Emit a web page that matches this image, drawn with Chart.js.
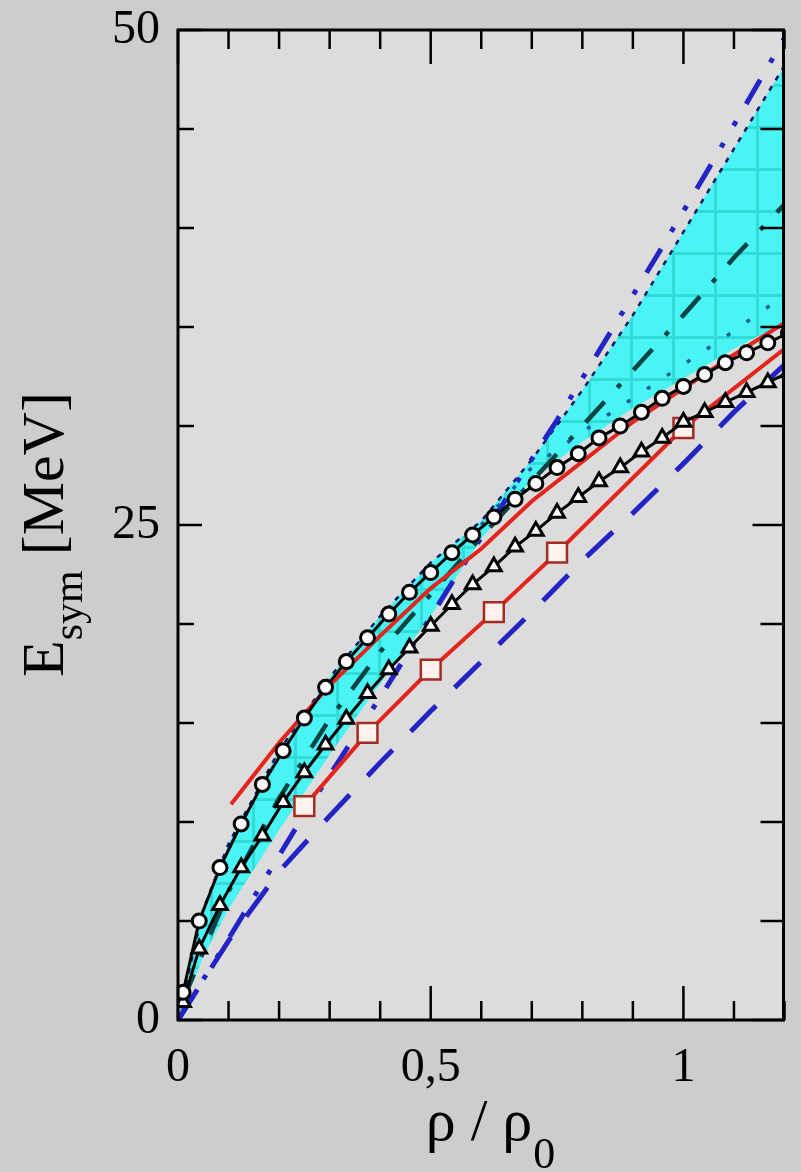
<!DOCTYPE html>
<html>
<head>
<meta charset="utf-8">
<script src="https://cdn.jsdelivr.net/npm/chart.js@4.4.1/dist/chart.umd.min.js"></script>
<style>
  html, body { margin: 0; padding: 0; background: #cdcdcd; }
  #esym { display: block; }
</style>
</head>
<body>
<canvas id="esym" width="801" height="1172"></canvas>
<script>
// density grid shared by the two marker curves (rho / rho0)
const rho = [0.01, 0.042, 0.083, 0.125, 0.167, 0.208, 0.25, 0.292, 0.333, 0.375,
             0.417, 0.458, 0.5, 0.542, 0.583, 0.625, 0.667, 0.708, 0.75, 0.792,
             0.833, 0.875, 0.917, 0.958, 1.0, 1.042, 1.083, 1.125, 1.167, 1.208];
const e_circles = [1.4, 5.0, 7.7, 9.9, 11.9, 13.6, 15.25, 16.8, 18.1, 19.3,
                   20.5, 21.6, 22.6, 23.6, 24.5, 25.4, 26.3, 27.1, 27.9, 28.6,
                   29.4, 30.0, 30.7, 31.4, 32.0, 32.6, 33.2, 33.7, 34.2, 34.7];
const e_triangles = [0.9, 3.6, 5.8, 7.7, 9.3, 11.0, 12.5, 13.9, 15.2, 16.5,
                     17.7, 18.8, 19.9, 21.0, 22.0, 22.9, 23.9, 24.7, 25.6, 26.4,
                     27.2, 27.9, 28.7, 29.4, 30.2, 30.7, 31.2, 31.7, 32.2, 32.7];

// red line with squares
const rho_red_sq = [0.25, 0.375, 0.5, 0.625, 0.75, 1.0, 1.2];
const e_red_sq = [10.8, 14.5, 17.7, 20.6, 23.6, 29.9, 33.9];
const has_square = [1, 1, 1, 1, 1, 1, 0];

// plain red line
const rho_red = [0.105, 0.2, 0.3, 0.4, 0.5, 0.6, 0.7, 0.8, 0.9, 1.0, 1.1, 1.2];
const e_red = [10.9, 14.0, 16.9, 19.4, 21.8, 23.8, 26.2, 28.2, 30.2, 31.9, 33.6, 35.2];

// blue dashed (lower) and blue dash-dot-dot (upper)
const rho_blue_low = [0, 0.1, 0.2, 0.3, 0.4, 0.5, 0.6, 0.7, 0.8, 0.9, 1.0, 1.1, 1.2];
const e_blue_low = [0, 4.0, 7.5, 10.3, 13.0, 15.6, 18.1, 20.6, 23.2, 25.6, 28.1, 30.7, 33.1];
const rho_blue_up = [0, 0.1, 0.25, 0.4, 0.55, 0.75, 0.85, 0.95, 1.05, 1.15, 1.2];
const e_blue_up = [0, 4.1, 10.4, 16.3, 22.4, 30.3, 34.5, 38.7, 43.0, 47.4, 49.6];

// dark teal dash-dot
const rho_teal = [0.01, 0.1, 0.2, 0.3, 0.4, 0.5, 0.6, 0.7, 0.8, 0.9, 1.0, 1.1, 1.2];
const e_teal = [1.0, 6.5, 11.2, 15.2, 18.6, 21.5, 24.4, 27.2, 30.0, 32.8, 35.6, 38.5, 41.2];

// blue dotted inside the band
const rho_dots = [0.6, 0.7, 0.8, 0.9, 1.0, 1.1, 1.2];
const e_dots = [25.0, 27.9, 29.7, 31.4, 33.1, 34.8, 36.6];

// cyan band edges
const rho_band = [0, 0.05, 0.1, 0.2, 0.3, 0.4, 0.5, 0.6, 0.7, 0.8, 0.9, 1.0, 1.1, 1.2];
const e_band_up = [0, 5.6, 8.9, 13.6, 17.3, 20.4, 23.1, 25.2, 28.3, 31.8, 35.6, 39.8, 44.0, 48.2];
const e_band_low = [0, 3.2, 5.6, 9.6, 13.4, 17.0, 20.4, 24.3, 27.3, 29.2, 30.9, 32.4, 33.9, 35.2];

const SERIF = '"Liberation Serif", "DejaVu Serif", serif';

function pts(xs, ys) {
    return xs.map((x, i) => ({ x: x, y: ys[i] }));
}

// cyan hatch for the band
function bandPattern() {
    const c = document.createElement('canvas');
    c.width = 42; c.height = 42;
    const g = c.getContext('2d');
    g.fillStyle = '#48f4f4';
    g.fillRect(0, 0, 42, 42);
    g.fillStyle = '#2fdcd8';
    g.fillRect(0, 0, 3, 42);
    g.fillRect(0, 0, 42, 3);
    return g.createPattern(c, 'repeat');
}

const plotBg = {
    id: 'plotBg',
    beforeDraw(chart) {
        const ctx = chart.ctx, a = chart.chartArea;
        ctx.save();
        ctx.fillStyle = '#cdcdcd';
        ctx.fillRect(0, 0, chart.width, chart.height);
        ctx.fillStyle = '#dcdcdc';
        ctx.fillRect(a.left, a.top, a.right - a.left, a.bottom - a.top);
        ctx.restore();
    }
};

// frame + inward ticks on all four sides
const frame = {
    id: 'frame',
    afterDatasetsDraw(chart) {
        const ctx = chart.ctx, a = chart.chartArea;
        const xs = chart.scales.x, ys = chart.scales.y;
        ctx.save();
        ctx.strokeStyle = '#000';
        ctx.lineWidth = 3;
        ctx.strokeRect(a.left, a.top, a.right - a.left - 1, a.bottom - a.top);
        ctx.lineWidth = 2.5;
        ctx.beginPath();
        xs.ticks.forEach(t => {
            const px = xs.getPixelForValue(t.value);
            const len = t.label !== '' ? 34 : 19;
            ctx.moveTo(px, a.bottom); ctx.lineTo(px, a.bottom - len);
            ctx.moveTo(px, a.top); ctx.lineTo(px, a.top + len);
        });
        ys.ticks.forEach(t => {
            const py = ys.getPixelForValue(t.value);
            const len = t.label !== '' ? 24 : 16;
            ctx.moveTo(a.left, py); ctx.lineTo(a.left + len, py);
            ctx.moveTo(a.right, py); ctx.lineTo(a.right - len - 8, py);
        });
        ctx.stroke();
        ctx.restore();
    }
};

// axis titles with subscripts
const titles = {
    id: 'titles',
    afterDraw(chart) {
        const ctx = chart.ctx;
        ctx.save();
        ctx.fillStyle = '#000';
        ctx.textBaseline = 'alphabetic';
        // x title: rho / rho_0
        ctx.font = '60px ' + SERIF;
        const main = 'ρ / ρ';
        const wMain = ctx.measureText(main).width;
        ctx.font = '44px ' + SERIF;
        const wSub = ctx.measureText('0').width;
        const x0 = 490 - (wMain + wSub) / 2;
        ctx.font = '60px ' + SERIF;
        ctx.fillText(main, x0, 1140);
        ctx.font = '44px ' + SERIF;
        ctx.fillText('0', x0 + wMain + 1, 1168);
        // y title: E_sym [MeV]
        ctx.translate(63, 677);
        ctx.rotate(-Math.PI / 2);
        ctx.font = '60px ' + SERIF;
        ctx.fillText('E', 0, 0);
        let w = ctx.measureText('E').width;
        ctx.font = '42px ' + SERIF;
        ctx.fillText('sym', w, 19);
        w += ctx.measureText('sym').width;
        ctx.font = '60px ' + SERIF;
        ctx.fillText(' [MeV]', w, 0);
        ctx.restore();
    }
};

const markerLine = (data, style, radius) => ({
    data: data,
    borderColor: '#000',
    borderWidth: 3,
    pointStyle: style,
    pointRadius: radius,
    pointBorderWidth: 3,
    pointBorderColor: '#000',
    pointBackgroundColor: '#fff',
    fill: false,
    tension: 0
});

const plainLine = (data, color, width, dash) => ({
    data: data,
    borderColor: color,
    borderWidth: width,
    borderDash: dash,
    pointRadius: 0,
    fill: false,
    tension: 0
});

new Chart(document.getElementById('esym').getContext('2d'), {
    type: 'line',
    data: {
        datasets: [
            markerLine(pts(rho, e_circles), 'circle', 7),
            markerLine(pts(rho, e_triangles), 'triangle', 8.5),
            {
                data: pts(rho_red_sq, e_red_sq),
                borderColor: '#e3251d',
                borderWidth: 4,
                pointStyle: 'rect',
                pointRadius: has_square.map(s => s ? 14 : 0),
                pointBorderWidth: 2.5,
                pointBorderColor: '#a52a22',
                pointBackgroundColor: '#fff1ec',
                fill: false,
                tension: 0
            },
            plainLine(pts(rho_red, e_red), '#e3251d', 4, []),
            plainLine(pts(rho_teal, e_teal), '#0a4444', 4.5, [28, 19, 5, 19]),
            plainLine(pts(rho_dots, e_dots), '#1d5c9c', 3.5, [4, 20]),
            plainLine(pts(rho_blue_up, e_blue_up), '#2424c4', 5, [28, 20, 5, 20, 5, 20]),
            plainLine(pts(rho_blue_low, e_blue_low), '#2424c4', 5, [36, 26]),
            {
                data: pts(rho_band, e_band_up),
                borderColor: '#0b1a66',
                borderWidth: 2.5,
                borderDash: [5, 7],
                pointRadius: 0,
                backgroundColor: bandPattern(),
                fill: '+1',
                tension: 0
            },
            {
                data: pts(rho_band, e_band_low),
                borderWidth: 0,
                pointRadius: 0,
                fill: false,
                tension: 0
            }
        ]
    },
    options: {
        responsive: false,
        animation: false,
        devicePixelRatio: 1,
        layout: { padding: { top: 30, right: 0, left: 0, bottom: 0 } },
        plugins: {
            legend: { display: false },
            tooltip: { enabled: false }
        },
        scales: {
            x: {
                type: 'linear',
                min: 0,
                max: 1.2,
                afterFit(s) {
                    s.height = 152;
                    s.paddingLeft = 0;
                    s.paddingRight = 0;
                },
                grid: { display: false, drawTicks: false },
                border: { display: false },
                ticks: {
                    stepSize: 0.1,
                    autoSkip: false,
                    maxRotation: 0,
                    padding: 20,
                    color: '#000',
                    font: { family: SERIF, size: 48 },
                    callback(v) {
                        if (Math.abs(v) < 1e-6) return '0';
                        if (Math.abs(v - 0.5) < 1e-6) return '0,5';
                        if (Math.abs(v - 1) < 1e-6) return '1';
                        return '';
                    }
                }
            },
            y: {
                min: 0,
                max: 50,
                afterFit(s) {
                    s.width = 178;
                    s.paddingTop = 0;
                    s.paddingBottom = 0;
                },
                grid: { display: false, drawTicks: false },
                border: { display: false },
                ticks: {
                    stepSize: 5,
                    autoSkip: false,
                    padding: 18,
                    color: '#000',
                    font: { family: SERIF, size: 48 },
                    callback(v) {
                        return (v % 25 === 0) ? String(v) : '';
                    }
                }
            }
        }
    },
    plugins: [plotBg, frame, titles]
});
</script>
</body>
</html>
